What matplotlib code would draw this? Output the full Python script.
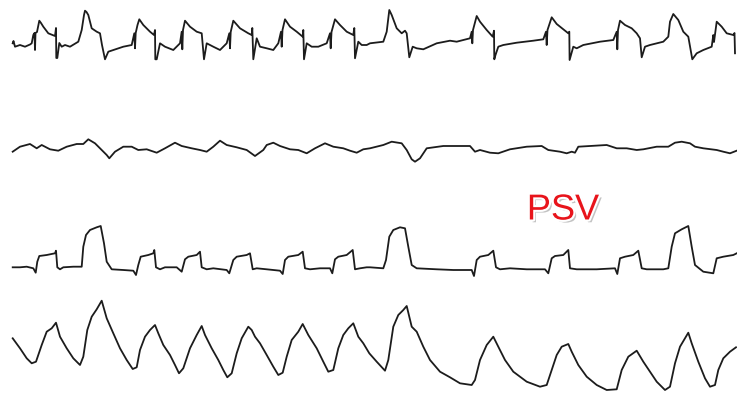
import matplotlib
matplotlib.use("Agg")
import matplotlib.pyplot as plt
import matplotlib.patheffects as pe

# Trace 1 (airway pressure-like, top)
t1 = [12.7,13.5,15,20,25,30,31.7,33.3,34.5,35,35.5,37,39.3,41,43.3,48.3,55,56,56.3,57.3,59.3,61.7,65,70,78.3,81.7,84,85,86.5,88.3,91.7,96.7,100,102,105,108.3,113.3,123.3,131.7,134.3,135,135.7,137.5,139.3,143.3,150,154,155,155.3,156.7,160,165,173.3,180,181.7,182.3,183,185,190,196.7,201.7,204,206.7,213.3,220,226.7,229.3,230,230.7,233.3,240,248.3,251.7,252.3,253.3,256.7,260,266.7,273.3,278.3,281,281.7,282.5,285,290,296.7,302.7,303.3,304,306.7,311.7,318.3,326.7,330,330.7,331.5,335,340,346.7,353.3,354.3,355,358.3,361.7,366.7,370,383.3,386.7,389.3,391.7,396.7,401.7,405,406.7,409.3,412.7,416.7,423.3,436.7,450,456.7,470,471.7,472.3,473,476.7,480,486.7,492.7,494,494.3,495.5,498.3,503.3,516.7,533.3,543.3,546,546.7,547.5,551.7,556.7,563.3,568.3,569.3,569.6,571,573.3,576.7,583.3,600,613.3,616.7,617.3,618,620,625,631.7,636.7,640,641.7,645,650,663.3,668.3,670,673.3,678.3,683.3,688.3,692.3,696.7,703.3,711.7,713.3,714,716.7,721.7,726.7,733.3,734.5,735]
v1 = [43.3,41,46.7,45,46.7,44.5,43.3,35,33,50,33,32,20.7,23,26.7,33.3,36,28,58,58,43,46.7,45,46.7,41.7,30,15,10.7,12,15,28.3,31.7,33.3,45,59.3,51.7,50,46.7,45,33.3,48.3,33,25,19.3,25,31.7,35,30,59.3,59.3,43.3,46.7,50,43.3,31.7,49.3,30,20.7,26.7,31.7,33.3,59.3,43.3,46.7,50,43.3,33.3,48.3,32,20.7,28.3,33.3,35,28,59.3,38.3,46.7,48.3,50,43.3,31.7,46.7,30,19.3,26.7,31.7,36.7,30,59.3,43.3,46.7,46.7,43.3,33.3,48.3,32,19.3,25,31.7,35,28,58.3,41.7,45,45,43.3,41.7,31.7,10,15,28.3,33.3,30.7,33.3,57.3,46.7,48.3,49.3,43.3,40.7,41.7,38.3,31.7,43.3,30,16,21.7,30,36.7,30.7,59.3,55,46.7,45,42.7,40.7,39.3,31.7,45,30,17.3,24,29.3,33.3,31.7,60,55,46.7,48.3,45,41.7,40,31.7,49.3,30,20.7,25,28.3,33.3,38.3,57.3,46.7,45,41.7,36.7,21.7,14,20,31.7,36.7,59.3,53.3,50,46.7,35,42,21.7,26.7,33.3,35,33,53.3]

# Trace 2 (middle, low-amplitude)
t2 = [12.7,20,30,36.7,41.7,50,58.3,66.7,76.7,83.3,88.3,95,101.7,106.7,109.3,115,123.3,131.7,138.3,146.7,156.7,165,175,181.7,191.7,200,206.7,213.3,220,226.7,236.7,246.7,255,263.3,266.7,273.3,280,290,298.3,306.7,315,325,333.3,343.3,350,356.7,363.3,370,383.3,391.7,401.7,406.7,411.7,415,420,426.7,443.3,470,475,480,490,498.3,510,526.7,541.7,548.3,560,566.7,571.7,575,578.3,590,606.7,616.7,626.7,636.7,643.3,656.7,668.3,675,681.7,690,695,703.3,716.7,723.3,730,736.7]
v2 = [151.7,146.7,144,148.3,145,149.3,150.7,146.7,144,144,139.3,143.3,150,155,158.3,151.7,146.7,146.7,150,149.3,152.7,148.3,142.7,146,148.3,150,151.7,146.7,140.7,145,147.3,150,156,150,145,142.7,146,149.3,150,153.3,148.3,143.3,146.7,148.3,150.7,152.7,149.3,148.3,145,141.7,143.3,150,159.3,161.7,158.3,148.3,146,146,151.7,150,152.7,153.3,149.3,146.7,146,150,151.7,153.3,151.7,152.7,146.7,146,145,148.3,148.3,150,149.3,146.7,146.7,142.7,141.7,143.3,146.7,148.3,150,151.7,153.3,150.7]

# Trace 3 (flow-like square pulses)
t3 = [12.7,20,26.7,33.3,35.7,37.3,39.3,46.7,55,56,57.3,60,63.3,73.3,81.7,83.3,86,90,96.7,100.7,104,106.7,111.7,123.3,133.3,136,138.3,140.7,148.3,153.3,154.3,156,160,165,176.7,181.7,185,188.3,196.7,200,201.7,206.7,213.3,226.7,229.3,233.3,236.7,246.7,250,252.7,256.7,266.7,280,282.7,285,288.3,298.3,302.7,305,310,320,330,332.3,335,338.3,346.7,352.7,355,360,366.7,370,383.3,386,389.3,393.3,400,405,408.3,411.7,416.7,436.7,453.3,471.7,474,476.7,480,488.3,493.3,496,500,510,526.7,545,548.3,551.7,555,563.3,568.3,570,576.7,596.7,615,617.3,620,625,633.3,638.3,641.7,646.7,663.3,668.3,671.7,675,681.7,688.3,691.7,695,703.3,713.3,716.7,723.3,733.3,736.7]
v3 = [267.3,267.3,266.7,268.3,272.7,261.7,256,255,253.3,250.7,267.3,269.3,267.3,266.7,266.7,246.7,235,230,227.3,226,243.3,261.7,269.3,270,270.7,275,265,256.7,255,253.3,250,267.3,269.3,267.3,267.3,271.7,259.3,256.7,255,251.7,267.3,269.3,268.3,270,273.3,260,256.7,255,253.3,269.3,268.3,269.3,270.7,274,260,256.7,255,251.7,268.3,269.3,268.3,268.3,273.3,259.3,256.7,255,250,269.3,268.3,267.3,267.3,268.3,260,236.7,230,227.3,228.3,246.7,265,268.3,269.3,270,270,276,260,256.7,255,250.7,267.3,269.3,268.3,269.3,269.3,273.3,258.3,256,255,250,268.3,269.3,269.3,268.3,274,258.3,256.7,255,250.7,268.3,269.3,269.3,268.3,246.7,233.3,229.3,226,246.7,265,271.7,273.3,258.3,256.7,255,253.3]

# Trace 4 (volume-like triangles)
t4 = [12.7,20,26.7,31.7,36,41.7,46.7,51.7,56,60,66.7,73.3,80,83.3,87.3,91.7,96.7,101.7,106.7,113.3,120,126.7,132.7,136.7,140,145,150,155,158.3,163.3,170,175,179,183.3,190,196.7,201.7,205,211.7,218.3,223.3,227.3,231.7,236.7,241.7,248.3,251.7,255,260,266.7,273.3,278.3,282.7,286.7,291.7,298.3,302.7,308.3,316.7,323.3,328.3,333.3,338.3,343.3,348.3,353.3,358.3,363.3,369.3,376.7,385,388.3,393.3,398.3,403.3,406.7,411.7,416.7,423.3,430,440,450,460,471.7,475,480,486.7,493.3,498.3,505,513.3,526.7,540,546.7,551.7,556.7,561.7,568.3,571.7,578.3,586.7,596.7,606.7,616.7,621.7,628.3,636.7,643.3,650,656.7,665,670,675,680,688.3,691.7,698.3,705,710,715,718.3,723.3,730,736]
v4 = [338.3,348.3,358.3,363.3,361.7,345,331.7,328.3,322.7,336.7,348.3,358.3,365,356.7,330,316.7,309.3,300.7,318.3,333.3,348.3,360,369,367.3,350,336.7,330,325,333.3,345,355,365,373.3,368.3,348.3,335,326,335,348.3,360,370,377.3,373.3,353.3,338.3,326.7,330,336.7,343.3,355,366.7,375,372.7,356.7,340,331.7,324,335,348.3,361.7,371.7,370,348.3,335,328.3,323.3,336.7,343.3,353.3,361.7,370.7,360,326.7,315,310,306,326.7,331.7,346.7,360,371.7,377.3,383.3,385,380,360,345,336.7,346.7,360,371.7,381.7,386.7,385,370,355,346.7,344,351.7,365,376.7,385,390,389.3,370,356.7,350.7,361.7,371.7,381.7,390,386.7,363.3,346.7,332.7,343.3,361.7,378.3,386.7,385,370,358.3,351.7,347.3]

label_text = "PSV"

fig = plt.figure(figsize=(7.37, 3.93), dpi=100)
ax = fig.add_axes([0, 0, 1, 1])
ax.set_xlim(0, 737)
ax.set_ylim(393, 0)
ax.axis("off")

for t, v in [(t1, v1), (t2, v2), (t3, v3), (t4, v4)]:
    ax.plot(t, v, color="#1c1c1c", lw=1.3, solid_joinstyle="round")

ax.text(563, 210, label_text, color="#e8141b", fontsize=26,
        family=["Liberation Sans", "DejaVu Sans"], ha="center", va="center",
        path_effects=[pe.withSimplePatchShadow(offset=(2, -2), shadow_rgbFace="#888888", alpha=0.5),
                      pe.Stroke(linewidth=3, foreground="white"), pe.Normal()])

fig.savefig("out.png", dpi=100)
